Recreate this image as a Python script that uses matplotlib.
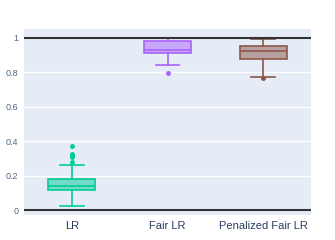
import matplotlib
matplotlib.use("Agg")
import matplotlib.pyplot as plt
from matplotlib.colors import to_rgba

categories = ["LR", "Fair LR", "Penalized Fair LR"]
colors = ["#00cc96", "#ab63fa", "#8c564b"]
q1 = [0.115, 0.909, 0.878]
med = [0.140, 0.929, 0.921]
q3 = [0.178, 0.979, 0.952]
whislo = [0.023, 0.842, 0.772]
whishi = [0.260, 0.997, 0.994]
outliers = [[0.28, 0.305, 0.315, 0.325, 0.37], [0.797], [0.764]]
yticks = [0, 0.2, 0.4, 0.6, 0.8, 1.0]
yticklabels = ["0", "0.2", "0.4", "0.6", "0.8", "1"]

fig = plt.figure(figsize=(3.35, 2.4), dpi=100)
ax = fig.add_axes([24/335, 25/240, 287/335, 186/240])
ax.set_facecolor("#E5ECF6")

stats = []
for i in range(3):
    stats.append(dict(label=categories[i], q1=q1[i], med=med[i], q3=q3[i],
                      whislo=whislo[i], whishi=whishi[i], fliers=outliers[i]))

for i, s in enumerate(stats):
    c = colors[i]
    bp = ax.bxp([s], positions=[i], widths=0.49, capwidths=0.245,
                patch_artist=True, showfliers=True)
    for b in bp["boxes"]:
        b.set_facecolor(to_rgba(c, 0.5))
        b.set_edgecolor(c)
        b.set_linewidth(1.2)
    for k in ["whiskers", "caps", "medians"]:
        for l in bp[k]:
            l.set_color(c)
            l.set_linewidth(1.2)
    for f in bp["fliers"]:
        f.set_marker("o")
        f.set_markerfacecolor(c)
        f.set_markeredgecolor(c)
        f.set_markersize(2.5)

for y in [0.2, 0.4, 0.6, 0.8]:
    ax.axhline(y, color="white", lw=1, zorder=0)
for y in [0, 1]:
    ax.axhline(y, color="#333333", lw=1.5, zorder=3)

ax.set_xlim(-0.5, 2.5)
ax.set_ylim(-0.029, 1.05)
ax.set_xticks(range(3))
ax.set_xticklabels(categories, fontsize=8, color="#2a3f5f", family="Liberation Sans")
ax.set_yticks(yticks)
ax.set_yticklabels(yticklabels, fontsize=6.5, color="#506784", family="Liberation Sans")
ax.tick_params(axis="both", length=0)
ax.tick_params(axis="y", pad=4)
ax.tick_params(axis="x", pad=4)
for sp in ax.spines.values():
    sp.set_visible(False)

fig.savefig("out.png", dpi=100, facecolor="white")
